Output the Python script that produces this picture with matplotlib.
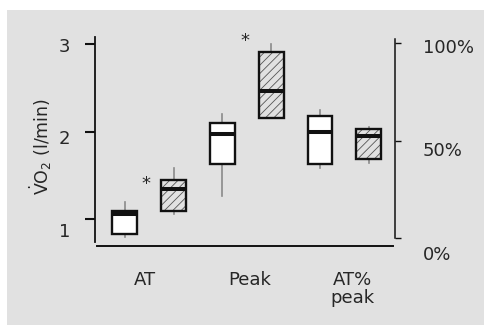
import matplotlib
matplotlib.use("Agg")
import matplotlib.pyplot as plt
from matplotlib.patches import Rectangle
from matplotlib.transforms import ScaledTranslation

plt.rcParams['font.family'] = ['DejaVu Sans']
plt.rcParams['hatch.linewidth'] = 0.6

# ---- data ----
categories = ["AT", "Peak", "AT%\npeak"]
# absolute VO2 boxes (l/min): AT control, AT trained, Peak control, Peak trained
vo2_labels = ["AT-a", "AT-b", "Peak-a", "Peak-b"]
vo2_whislo = [0.80, 1.06, 1.26, 2.15]
vo2_q1     = [0.83, 1.09, 1.63, 2.15]
vo2_med    = [1.06, 1.34, 1.97, 2.46]
vo2_q3     = [1.10, 1.45, 2.10, 2.91]
vo2_whishi = [1.20, 1.59, 2.20, 3.00]
vo2_hatched = [False, True, False, True]

# AT as % of peak
pct_labels = ["ATpct-a", "ATpct-b"]
pct_whislo = [35.8, 38.4]
pct_q1     = [37.9, 40.6]
pct_med    = [54.3, 52.4]
pct_q3     = [62.7, 56.0]
pct_whishi = [65.7, 56.9]
pct_hatched = [False, True]

left_ticks = [1, 2, 3]
left_ticklabels = ["1", "2", "3"]
right_ticks = [0, 50, 100]
right_ticklabels = ["0%", "50%", "100%"]

# significance markers (x in box units, y in l/min)
sig_x = [1.43, 3.465]
sig_y = [1.40, 3.03]

# ---- figure ----
fig = plt.figure(figsize=(4.85, 3.25), dpi=100)
fig.patch.set_facecolor('white')
fig.patches.append(Rectangle((7/485, 0), 1 - 7/485, 315/325, transform=fig.transFigure,
                             facecolor='#e1e1e1', edgecolor='none', zorder=-10))

ax = fig.add_axes([95/485, 1 - 246/325, 300/485, 209/325])
ax.set_facecolor('none')
ax2 = ax.twinx()
ax2.set_facecolor('none')

txtc = '#262626'
edgec = '#111111'
whc = '#8a8a8a'
hatchc = '#555555'
width = 0.51

def stats(labels, lo, q1, med, q3, hi):
    return [dict(label=l, whislo=a, q1=b, med=c, q3=d, whishi=e, fliers=[])
            for l, a, b, c, d, e in zip(labels, lo, q1, med, q3, hi)]

def draw(axis, st, positions, hatched):
    hs = [s for s, h in zip(st, hatched) if h]
    hp = [p for p, h in zip(positions, hatched) if h]
    if hs:
        axis.bxp(hs, positions=hp, widths=width, patch_artist=True, showcaps=False,
                 showfliers=False,
                 boxprops=dict(facecolor='none', edgecolor=hatchc, hatch='////', linewidth=0),
                 whiskerprops=dict(linewidth=0), medianprops=dict(linewidth=0),
                 manage_ticks=False, zorder=3)
    r = axis.bxp(st, positions=positions, widths=width, patch_artist=True, showcaps=False,
                 showfliers=False,
                 boxprops=dict(facecolor='white', edgecolor=edgec, linewidth=1.7),
                 whiskerprops=dict(color=whc, linewidth=1.2),
                 medianprops=dict(color=edgec, linewidth=2.9, solid_capstyle='butt'),
                 manage_ticks=False, zorder=4)
    for b, h in zip(r['boxes'], hatched):
        if h:
            b.set_facecolor('none')
    for w in r['whiskers']:
        w.set_zorder(2)

draw(ax, stats(vo2_labels, vo2_whislo, vo2_q1, vo2_med, vo2_q3, vo2_whishi),
     [1, 2, 3, 4], vo2_hatched)
draw(ax2, stats(pct_labels, pct_whislo, pct_q1, pct_med, pct_q3, pct_whishi),
     [5, 6], pct_hatched)

ax.set_xlim(0.391, 6.537)
ax.set_ylim(0.695, 3.08)
ax2.set_ylim(-4.1, 103.2)

for s in ['top', 'right']:
    ax.spines[s].set_visible(False)
for s in ['top', 'left', 'bottom']:
    ax2.spines[s].set_visible(False)
ax.spines['left'].set_bounds(0.738, 3.08)
ax.spines['left'].set_linewidth(1.3)
ax.spines['left'].set_color(edgec)
ax.spines['bottom'].set_bounds(0.432, 6.496)
ax.spines['bottom'].set_linewidth(1.4)
ax.spines['bottom'].set_color(edgec)
ax2.spines['right'].set_bounds(0, 102)
ax2.spines['right'].set_linewidth(1.1)
ax2.spines['right'].set_color(edgec)

ax.set_yticks(left_ticks)
ax.set_yticklabels(left_ticklabels)
ax.tick_params(axis='y', length=7.2, width=1.5, color=edgec, pad=10.8,
               labelsize=13, labelcolor=txtc)
ax2.set_yticks(right_ticks)
ax2.set_yticklabels(right_ticklabels)
ax2.tick_params(axis='y', length=4.3, width=1.0, color=edgec, pad=15.8,
                labelsize=13, labelcolor=txtc)

ax.set_xticks([1.416, 3.568, 5.658])
ax.set_xticklabels(categories, linespacing=1.0)
ax.tick_params(axis='x', length=0, pad=18, labelsize=13, labelcolor=txtc)

for tick, off in zip(ax.yaxis.get_major_ticks(), [11, 5, 1]):
    tick.label1.set_transform(tick.label1.get_transform() +
                              ScaledTranslation(0, -off / 100, fig.dpi_scale_trans))
for tick, off in zip(ax2.yaxis.get_major_ticks(), [15, 8.8, 2.5]):
    tick.label2.set_transform(tick.label2.get_transform() +
                              ScaledTranslation(0, -off / 100, fig.dpi_scale_trans))

ax.text(-0.18, 0.478, r'$\dot{\mathrm{V}}\mathrm{O}_2$ (l/min)', transform=ax.transAxes,
        rotation=90, ha='center', va='center', rotation_mode='anchor',
        fontsize=12.5, color=txtc)

for x, y in zip(sig_x, sig_y):
    ax.text(x, y, '*', ha='center', va='center', fontsize=13, color=txtc)

fig.savefig('out.png', dpi=100)
